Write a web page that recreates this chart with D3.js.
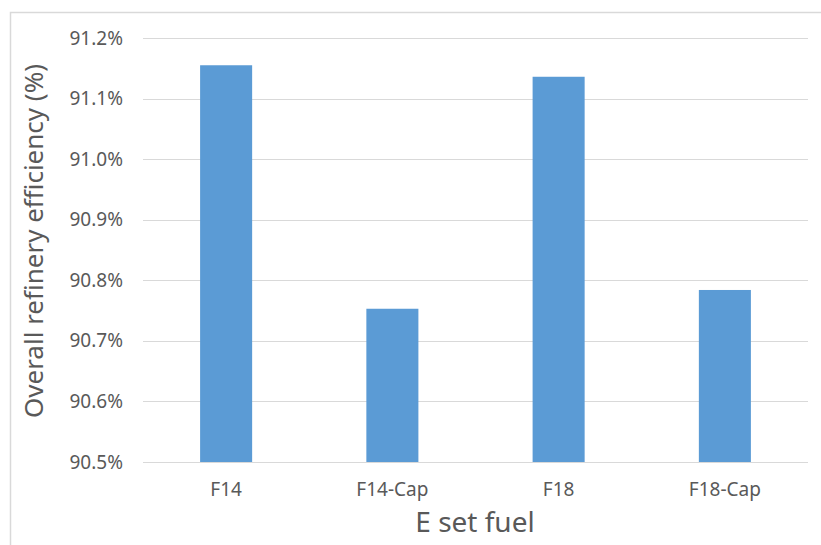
<!DOCTYPE html>
<html>
<head>
<meta charset="utf-8">
<script src="https://cdn.jsdelivr.net/npm/d3@7"></script>
<style>
  body { margin: 0; background: white; }
  svg { display: block; font-family: "Noto Sans", "Open Sans", sans-serif; }
</style>
</head>
<body>
<div id="chart"></div>
<script>
const categories = ["F14", "F14-Cap", "F18", "F18-Cap"];
const efficiency = [91.155, 90.753, 91.136, 90.784];
const yTicks = [90.5, 90.6, 90.7, 90.8, 90.9, 91.0, 91.1, 91.2];

const width = 821;
const height = 545;
const plot = { left: 143, right: 808, top: 38, bottom: 462 };
const fontFamily = '"Noto Sans", "Open Sans", sans-serif';

const svg = d3.select("#chart").append("svg")
  .attr("width", width)
  .attr("height", height);

// chart frame (cropped on right and bottom)
svg.append("rect")
  .attr("x", 10.5)
  .attr("y", 12.5)
  .attr("width", width + 20)
  .attr("height", height + 20)
  .style("fill", "white")
  .style("stroke", "#d9d9d9")
  .style("stroke-width", 1.5);

const x = d3.scaleBand()
  .domain(categories)
  .range([plot.left, plot.right])
  .paddingInner(0.687)
  .paddingOuter(0.687 / 2);

const y = d3.scaleLinear()
  .domain([90.5, 91.2])
  .range([plot.bottom, plot.top]);

// gridlines
svg.append("g")
  .selectAll("line")
  .data(yTicks)
  .join("line")
  .attr("x1", plot.left)
  .attr("x2", plot.right)
  .attr("y1", d => Math.round(y(d)) + 0.5)
  .attr("y2", d => Math.round(y(d)) + 0.5)
  .style("stroke", "#d9d9d9")
  .style("stroke-width", 1);

// bars
svg.append("g")
  .selectAll("rect")
  .data(categories)
  .join("rect")
  .attr("x", d => x(d))
  .attr("width", x.bandwidth())
  .attr("y", (d, i) => y(efficiency[i]))
  .attr("height", (d, i) => y(90.5) - y(efficiency[i]))
  .style("fill", "#5b9bd5");

// y axis
const yAxis = d3.axisLeft(y)
  .tickValues(yTicks)
  .tickSize(0)
  .tickPadding(20)
  .tickFormat(d => d3.format(".1f")(d) + "%");

svg.append("g")
  .attr("class", "y axis")
  .attr("transform", `translate(${plot.left},0)`)
  .call(yAxis)
  .call(g => g.select(".domain").remove())
  .call(g => g.attr("font-family", fontFamily).attr("font-size", 19))
  .call(g => g.selectAll("text").style("fill", "#595959"));

// x axis
const xAxis = d3.axisBottom(x).tickSize(0).tickPadding(21);

svg.append("g")
  .attr("class", "x axis")
  .attr("transform", `translate(0,${plot.bottom})`)
  .call(xAxis)
  .call(g => g.select(".domain").remove())
  .call(g => g.attr("font-family", fontFamily).attr("font-size", 19))
  .call(g => g.selectAll("text").style("fill", "#595959"));

// axis titles
svg.append("text")
  .attr("transform", "translate(43,241) rotate(-90)")
  .attr("text-anchor", "middle")
  .style("font-size", "26px")
  .style("fill", "#595959")
  .text("Overall refinery efficiency (%)");

svg.append("text")
  .attr("x", 475)
  .attr("y", 532)
  .attr("text-anchor", "middle")
  .style("font-size", "28px")
  .style("fill", "#595959")
  .text("E set fuel");
</script>
</body>
</html>
